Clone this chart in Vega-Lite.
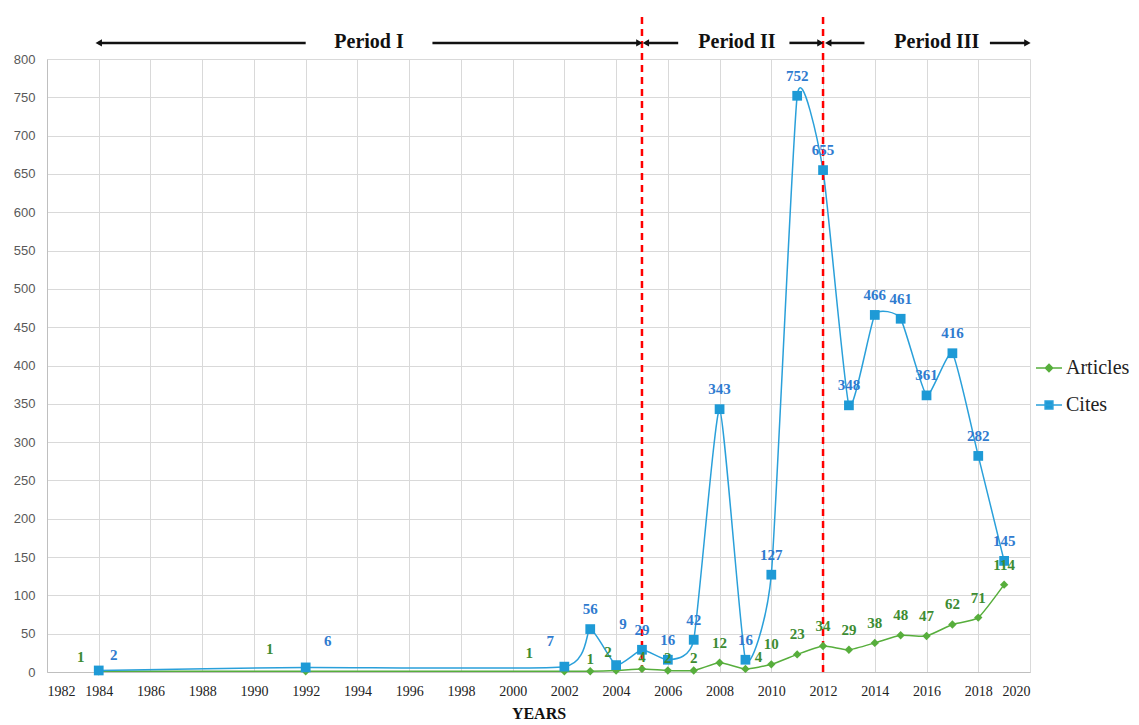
{
  "$schema": "https://vega.github.io/schema/vega-lite/v6.json",
  "width": 983,
  "height": 613,
  "autosize": {"type": "none"},
  "padding": {"left": 47, "top": 59, "right": 109, "bottom": 53},
  "background": "white",
  "config": {
    "view": {"stroke": null},
    "axisX": {
      "values": [1982,1984,1986,1988,1990,1992,1994,1996,1998,2000,2002,2004,2006,2008,2010,2012,2014,2016,2018,2020],
      "format": "d",
      "grid": true, "gridColor": "#D9D9D9", "gridWidth": 1,
      "domainColor": "#BFBFBF", "ticks": false,
      "labelFont": "Liberation Serif", "labelFontSize": 14, "labelColor": "#222222", "labelPadding": 12,
      "titleFont": "Liberation Serif", "titleFontSize": 16, "titleFontWeight": "bold", "titleColor": "#111111", "titlePadding": 7
    },
    "axisY": {
      "values": [0,50,100,150,200,250,300,350,400,450,500,550,600,650,700,750,800],
      "grid": true, "gridColor": "#D9D9D9", "gridWidth": 1,
      "domainColor": "#BFBFBF", "ticks": false,
      "labelFont": "Liberation Sans", "labelFontSize": 13, "labelColor": "#595959", "labelPadding": 12,
      "title": null
    }
  },
  "datasets": {
    "main": [
      {"year": 1984, "series": "Articles", "value": 1},
      {"year": 1992, "series": "Articles", "value": 1},
      {"year": 2002, "series": "Articles", "value": 1},
      {"year": 2003, "series": "Articles", "value": 1},
      {"year": 2004, "series": "Articles", "value": 2},
      {"year": 2005, "series": "Articles", "value": 4},
      {"year": 2006, "series": "Articles", "value": 2},
      {"year": 2007, "series": "Articles", "value": 2},
      {"year": 2008, "series": "Articles", "value": 12},
      {"year": 2009, "series": "Articles", "value": 4},
      {"year": 2010, "series": "Articles", "value": 10},
      {"year": 2011, "series": "Articles", "value": 23},
      {"year": 2012, "series": "Articles", "value": 34},
      {"year": 2013, "series": "Articles", "value": 29},
      {"year": 2014, "series": "Articles", "value": 38},
      {"year": 2015, "series": "Articles", "value": 48},
      {"year": 2016, "series": "Articles", "value": 47},
      {"year": 2017, "series": "Articles", "value": 62},
      {"year": 2018, "series": "Articles", "value": 71},
      {"year": 2019, "series": "Articles", "value": 114},
      {"year": 1984, "series": "Cites", "value": 2},
      {"year": 1992, "series": "Cites", "value": 6},
      {"year": 2002, "series": "Cites", "value": 7},
      {"year": 2003, "series": "Cites", "value": 56},
      {"year": 2004, "series": "Cites", "value": 9},
      {"year": 2005, "series": "Cites", "value": 29},
      {"year": 2006, "series": "Cites", "value": 16},
      {"year": 2007, "series": "Cites", "value": 42},
      {"year": 2008, "series": "Cites", "value": 343},
      {"year": 2009, "series": "Cites", "value": 16},
      {"year": 2010, "series": "Cites", "value": 127},
      {"year": 2011, "series": "Cites", "value": 752},
      {"year": 2012, "series": "Cites", "value": 655},
      {"year": 2013, "series": "Cites", "value": 348},
      {"year": 2014, "series": "Cites", "value": 466},
      {"year": 2015, "series": "Cites", "value": 461},
      {"year": 2016, "series": "Cites", "value": 361},
      {"year": 2017, "series": "Cites", "value": 416},
      {"year": 2018, "series": "Cites", "value": 282},
      {"year": 2019, "series": "Cites", "value": 145}
    ],
    "splits": [{"year": 2005}, {"year": 2012}],
    "periods": [
      {"label": "Period I", "year": 1994.45},
      {"label": "Period II", "year": 2008.67},
      {"label": "Period III", "year": 2016.4}
    ],
    "arrows": [
      {"start": 1992.0, "end": 1984.0},
      {"start": 1996.9, "end": 2004.9},
      {"start": 2006.4, "end": 2005.15},
      {"start": 2010.7, "end": 2011.9},
      {"start": 2013.6, "end": 2012.2},
      {"start": 2018.45, "end": 2019.9}
    ]
  },
  "layer": [
    {
      "data": {"name": "main"},
      "mark": {"type": "line", "interpolate": "cardinal", "tension": 0.5, "strokeWidth": 1.5},
      "encoding": {
        "x": {"field": "year", "type": "quantitative", "scale": {"domain": [1982, 2020], "nice": false, "zero": false}, "axis": {"title": "YEARS"}},
        "y": {"field": "value", "type": "quantitative", "scale": {"domain": [0, 800], "nice": false}},
        "color": {
          "field": "series", "type": "nominal",
          "scale": {"domain": ["Articles", "Cites"], "range": ["#57AE3C", "#2AA0DA"]},
          "legend": {
            "orient": "none", "legendX": 988, "legendY": 295, "title": null,
            "labelFont": "Liberation Serif", "labelFontSize": 20, "labelColor": "#222222",
            "symbolSize": 676, "symbolStrokeWidth": 1.5, "rowPadding": 13, "labelOffset": 3,
            "encode": {
              "symbols": {
                "update": {
                  "shape": {"signal": "datum.value === 'Articles' ? 'M-1,0H1M0,-0.28L0.28,0L0,0.28L-0.28,0Z' : 'M-1,0H1M-0.3,-0.3H0.3V0.3H-0.3Z'"},
                  "fill": {"signal": "datum.value === 'Articles' ? '#57AE3C' : '#1E9AD6'"},
                  "stroke": {"signal": "datum.value === 'Articles' ? '#57AE3C' : '#2AA0DA'"},
                  "strokeWidth": {"value": 1.5},
                  "opacity": {"value": 1}
                }
              }
            }
          }
        }
      }
    },
    {
      "data": {"name": "splits"},
      "mark": {"type": "rule", "color": "#FF0000", "strokeWidth": 2.5, "strokeDash": [7, 5]},
      "encoding": {
        "x": {"field": "year", "type": "quantitative"},
        "y": {"datum": 0},
        "y2": {"datum": 855}
      }
    },
    {
      "data": {"name": "main"},
      "transform": [{"filter": "datum.series === 'Articles'"}],
      "mark": {"type": "point", "filled": true, "opacity": 1, "shape": "diamond", "size": 70, "color": "#57AE3C"},
      "encoding": {
        "x": {"field": "year", "type": "quantitative"},
        "y": {"field": "value", "type": "quantitative"}
      }
    },
    {
      "data": {"name": "main"},
      "transform": [{"filter": "datum.series === 'Cites'"}],
      "mark": {"type": "point", "filled": true, "opacity": 1, "shape": "square", "size": 95, "color": "#1E9AD6"},
      "encoding": {
        "x": {"field": "year", "type": "quantitative"},
        "y": {"field": "value", "type": "quantitative"}
      }
    },
    {
      "data": {"name": "main"},
      "transform": [{"filter": "datum.series === 'Cites' && indexof([1984,1992,2002,2004], datum.year) < 0"}],
      "mark": {"type": "text", "font": "Liberation Serif", "fontWeight": "bold", "fontSize": 15, "color": "#2F7BCF", "baseline": "middle", "dy": -20},
      "encoding": {"x": {"field": "year", "type": "quantitative"}, "y": {"field": "value", "type": "quantitative"}, "text": {"field": "value", "type": "quantitative"}}
    },
    {
      "data": {"name": "main"},
      "transform": [{"filter": "datum.series === 'Cites' && datum.year === 1984"}],
      "mark": {"type": "text", "font": "Liberation Serif", "fontWeight": "bold", "fontSize": 15, "color": "#2F7BCF", "baseline": "middle", "dx": 15, "dy": -15},
      "encoding": {"x": {"field": "year", "type": "quantitative"}, "y": {"field": "value", "type": "quantitative"}, "text": {"field": "value", "type": "quantitative"}}
    },
    {
      "data": {"name": "main"},
      "transform": [{"filter": "datum.series === 'Cites' && datum.year === 1992"}],
      "mark": {"type": "text", "font": "Liberation Serif", "fontWeight": "bold", "fontSize": 15, "color": "#2F7BCF", "baseline": "middle", "dx": 22, "dy": -26},
      "encoding": {"x": {"field": "year", "type": "quantitative"}, "y": {"field": "value", "type": "quantitative"}, "text": {"field": "value", "type": "quantitative"}}
    },
    {
      "data": {"name": "main"},
      "transform": [{"filter": "datum.series === 'Cites' && datum.year === 2002"}],
      "mark": {"type": "text", "font": "Liberation Serif", "fontWeight": "bold", "fontSize": 15, "color": "#2F7BCF", "baseline": "middle", "dx": -14, "dy": -26},
      "encoding": {"x": {"field": "year", "type": "quantitative"}, "y": {"field": "value", "type": "quantitative"}, "text": {"field": "value", "type": "quantitative"}}
    },
    {
      "data": {"name": "main"},
      "transform": [{"filter": "datum.series === 'Cites' && datum.year === 2004"}],
      "mark": {"type": "text", "font": "Liberation Serif", "fontWeight": "bold", "fontSize": 15, "color": "#2F7BCF", "baseline": "middle", "dx": 7, "dy": -41},
      "encoding": {"x": {"field": "year", "type": "quantitative"}, "y": {"field": "value", "type": "quantitative"}, "text": {"field": "value", "type": "quantitative"}}
    },
    {
      "data": {"name": "main"},
      "transform": [{"filter": "datum.series === 'Articles' && datum.year >= 2008 && datum.year !== 2009"}],
      "mark": {"type": "text", "font": "Liberation Serif", "fontWeight": "bold", "fontSize": 15, "color": "#3D8C32", "baseline": "middle", "dy": -20},
      "encoding": {"x": {"field": "year", "type": "quantitative"}, "y": {"field": "value", "type": "quantitative"}, "text": {"field": "value", "type": "quantitative"}}
    },
    {
      "data": {"name": "main"},
      "transform": [{"filter": "datum.series === 'Articles' && indexof([2003,2005,2006,2007], datum.year) >= 0"}],
      "mark": {"type": "text", "font": "Liberation Serif", "fontWeight": "bold", "fontSize": 15, "color": "#3D8C32", "baseline": "middle", "dy": -12},
      "encoding": {"x": {"field": "year", "type": "quantitative"}, "y": {"field": "value", "type": "quantitative"}, "text": {"field": "value", "type": "quantitative"}}
    },
    {
      "data": {"name": "main"},
      "transform": [{"filter": "datum.series === 'Articles' && datum.year === 2004"}],
      "mark": {"type": "text", "font": "Liberation Serif", "fontWeight": "bold", "fontSize": 15, "color": "#3D8C32", "baseline": "middle", "dx": -8, "dy": -18},
      "encoding": {"x": {"field": "year", "type": "quantitative"}, "y": {"field": "value", "type": "quantitative"}, "text": {"field": "value", "type": "quantitative"}}
    },
    {
      "data": {"name": "main"},
      "transform": [{"filter": "datum.series === 'Articles' && datum.year === 2009"}],
      "mark": {"type": "text", "font": "Liberation Serif", "fontWeight": "bold", "fontSize": 15, "color": "#3D8C32", "baseline": "middle", "dx": 13, "dy": -12},
      "encoding": {"x": {"field": "year", "type": "quantitative"}, "y": {"field": "value", "type": "quantitative"}, "text": {"field": "value", "type": "quantitative"}}
    },
    {
      "data": {"name": "main"},
      "transform": [{"filter": "datum.series === 'Articles' && datum.year === 1984"}],
      "mark": {"type": "text", "font": "Liberation Serif", "fontWeight": "bold", "fontSize": 15, "color": "#3D8C32", "baseline": "middle", "dx": -18, "dy": -14},
      "encoding": {"x": {"field": "year", "type": "quantitative"}, "y": {"field": "value", "type": "quantitative"}, "text": {"field": "value", "type": "quantitative"}}
    },
    {
      "data": {"name": "main"},
      "transform": [{"filter": "datum.series === 'Articles' && datum.year === 1992"}],
      "mark": {"type": "text", "font": "Liberation Serif", "fontWeight": "bold", "fontSize": 15, "color": "#3D8C32", "baseline": "middle", "dx": -36, "dy": -22},
      "encoding": {"x": {"field": "year", "type": "quantitative"}, "y": {"field": "value", "type": "quantitative"}, "text": {"field": "value", "type": "quantitative"}}
    },
    {
      "data": {"name": "main"},
      "transform": [{"filter": "datum.series === 'Articles' && datum.year === 2002"}],
      "mark": {"type": "text", "font": "Liberation Serif", "fontWeight": "bold", "fontSize": 15, "color": "#3D8C32", "baseline": "middle", "dx": -35, "dy": -18},
      "encoding": {"x": {"field": "year", "type": "quantitative"}, "y": {"field": "value", "type": "quantitative"}, "text": {"field": "value", "type": "quantitative"}}
    },
    {
      "data": {"name": "arrows"},
      "mark": {"type": "rule", "color": "#111111", "strokeWidth": 2.5},
      "encoding": {
        "x": {"field": "start", "type": "quantitative"},
        "x2": {"field": "end"},
        "y": {"datum": 821}
      }
    },
    {
      "data": {"name": "arrows"},
      "mark": {"type": "point", "filled": true, "opacity": 1, "color": "#111111", "size": 55},
      "encoding": {
        "x": {"field": "end", "type": "quantitative"},
        "y": {"datum": 821},
        "shape": {"condition": {"test": "datum.end < datum.start", "value": "triangle-left"}, "value": "triangle-right"}
      }
    },
    {
      "data": {"name": "periods"},
      "mark": {"type": "text", "font": "Liberation Serif", "fontWeight": "bold", "fontSize": 20, "color": "#111111", "baseline": "middle"},
      "encoding": {
        "x": {"field": "year", "type": "quantitative"},
        "y": {"datum": 822},
        "text": {"field": "label", "type": "nominal"}
      }
    }
  ]
}
